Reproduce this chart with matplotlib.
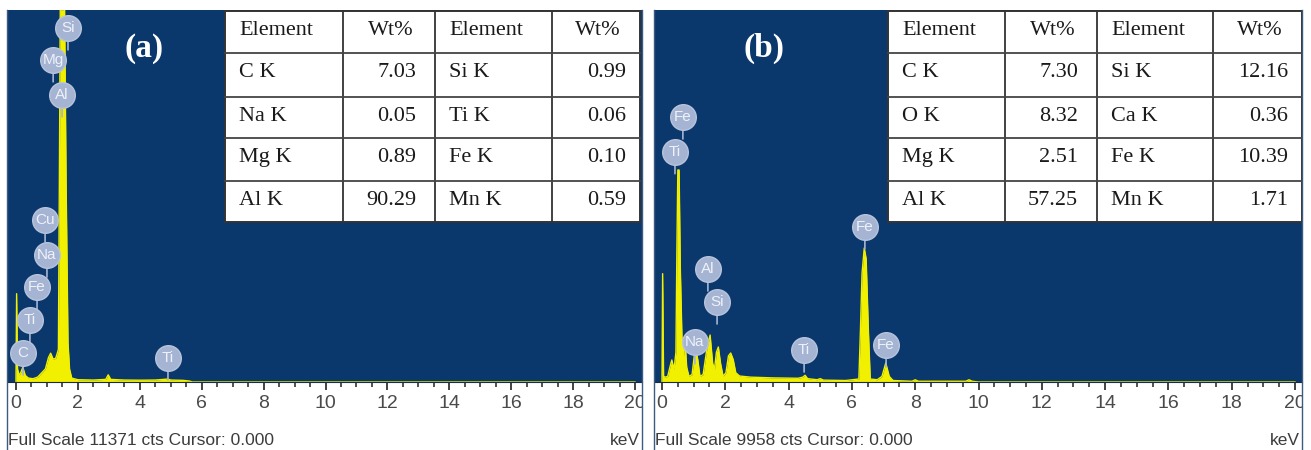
import matplotlib.pyplot as plt
from matplotlib import font_manager
from matplotlib.lines import Line2D
from matplotlib.patches import Rectangle
from matplotlib.ticker import MultipleLocator
from matplotlib.transforms import Bbox, TransformedBbox, offset_copy

W, H = 1311, 450

# ---- panel (a) spectrum, keV vs counts
kev_a = [0.00, 0.02, 0.05, 0.10, 0.16, 0.22, 0.30, 0.40, 0.55, 0.70, 0.85, 0.95,
         1.05, 1.12, 1.20, 1.28, 1.34, 1.37, 1.40, 1.43, 1.57, 1.62, 1.68, 1.73,
         1.80, 2.00, 2.50, 2.90, 2.98, 3.06, 3.50, 4.00, 4.50, 4.90, 5.00, 5.40,
         5.60, 5.70, 20.0]
cts_a = [0, 2700, 400, 200, 300, 450, 200, 120, 100, 150, 300, 400,
         750, 880, 700, 720, 900, 1000, 6000, 11371, 11371, 6000, 1200, 400,
         120, 70, 60, 80, 220, 80, 60, 55, 60, 90, 60, 50,
         30, 0, 0]
full_scale_a = 11371

lab_a = ["Si", "Mg", "Al", "Cu", "Na", "Fe", "Ti", "C", "Ti"]
lab_a_kev = [1.68, 1.20, 1.49, 0.94, 1.00, 0.68, 0.45, 0.23, 4.91]
lab_a_cts = [10825, 9847, 8778, 4946, 3878, 2900, 1899, 887, 739]

el1_a = ["C K", "Na K", "Mg K", "Al K"]
wt1_a = ["7.03", "0.05", "0.89", "90.29"]
el2_a = ["Si K", "Ti K", "Fe K", "Mn K"]
wt2_a = ["0.99", "0.06", "0.10", "0.59"]

# ---- panel (b)
kev_b = [0.00, 0.02, 0.05, 0.10, 0.18, 0.25, 0.31, 0.38, 0.44, 0.47, 0.50, 0.54,
         0.58, 0.63, 0.68, 0.73, 0.78, 0.85, 0.95, 1.02, 1.07, 1.13, 1.20, 1.30,
         1.42, 1.52, 1.60, 1.66, 1.72, 1.78, 1.85, 1.93, 2.02, 2.10, 2.17, 2.25,
         2.33, 2.45, 2.80, 3.50, 4.30, 4.45, 4.52, 4.60, 4.90, 5.00, 5.10, 5.80,
         6.22, 6.27, 6.32, 6.39, 6.45, 6.52, 6.58, 6.80, 6.95, 7.07, 7.18, 7.30,
         7.90, 8.00, 8.10, 9.60, 9.70, 9.80, 10.0, 20.0]
cts_b = [0, 2900, 150, 130, 150, 400, 590, 330, 800, 3500, 5675, 5675,
         3000, 1200, 700, 1070, 400, 150, 200, 700, 857, 600, 150, 200,
         900, 1258, 500, 350, 800, 937, 500, 150, 250, 700, 776, 600,
         250, 160, 130, 110, 100, 130, 180, 90, 60, 90, 50, 40,
         80, 1400, 2900, 3587, 3300, 1400, 80, 60, 150, 509, 150, 40,
         20, 60, 20, 20, 60, 20, 0, 0]
full_scale_b = 9958

lab_b = ["Fe", "Ti", "Al", "Si", "Na", "Ti", "Fe", "Fe"]
lab_b_kev = [0.66, 0.41, 1.45, 1.74, 1.04, 4.49, 6.41, 7.08]
lab_b_cts = [7094, 6165, 3025, 2142, 1071, 857, 4149, 990]

el1_b = ["C K", "O K", "Mg K", "Al K"]
wt1_b = ["7.30", "8.32", "2.51", "57.25"]
el2_b = ["Si K", "Ca K", "Fe K", "Mn K"]
wt2_b = ["12.16", "0.36", "10.39", "1.71"]

BLUE = "#0b386c"
YELLOW = "#f0f000"
BUBBLE = "#a5b4d3"

names = {f.name for f in font_manager.fontManager.ttflist}
if "Liberation Sans Narrow" in names:
    SANS, tick_fs, foot_fs = "Liberation Sans Narrow", 16, 15
else:
    SANS, tick_fs, foot_fs = "Liberation Sans", 14, 12.5
SERIF = "Liberation Serif"


def fx(x):
    return x / W


def fy(y):
    return 1 - y / H


fig = plt.figure(figsize=(W / 100, H / 100), dpi=100)


def panel(left, right, zero_px, px_per_kev, kev, cts, fs, labs, lab_kev, lab_cts,
          col_x, tables, tag, tag_x):
    top, bottom = 10, 382
    ax = fig.add_axes([fx(left), fy(bottom), (right - left) / W, (bottom - top) / H])
    ax.set_facecolor(BLUE)
    ax.fill_between(kev, cts, color=YELLOW, lw=0, zorder=2)
    ax.plot(kev, cts, color=YELLOW, lw=1, zorder=2)
    ax.set_xlim((left - zero_px) / px_per_kev, (right - zero_px) / px_per_kev)
    ax.set_ylim(0, fs)
    ax.set_yticks([])
    ax.set_xticks(range(0, 21, 2))
    ax.xaxis.set_minor_locator(MultipleLocator(0.5))
    ax.tick_params(axis="x", which="major", length=6, width=1.2, color="#222222",
                   pad=3, labelsize=tick_fs, labelcolor="#4a4a4a")
    ax.tick_params(axis="x", which="minor", length=3.5, width=1.1, color="#222222")
    clip = TransformedBbox(Bbox([[fx(left - 1), 0], [fx(right), 1]]), fig.transFigure)
    for lbl in ax.get_xticklabels():
        lbl.set_family(SANS)
        lbl.set_clip_box(clip)
        lbl.set_clip_on(True)
    for s in ["top", "left", "right"]:
        ax.spines[s].set_visible(False)
    ax.spines["bottom"].set_color("#1c2c40")
    ax.spines["bottom"].set_linewidth(0.8)

    # peak markers
    stem = offset_copy(ax.transData, fig=fig, y=-22, units="dots")
    for s, xk, yc in zip(labs, lab_kev, lab_cts):
        ax.annotate("", xy=(xk, yc), xycoords=stem, xytext=(xk, yc), textcoords="data",
                    arrowprops=dict(arrowstyle="-", color=BUBBLE, lw=1.2,
                                    shrinkA=0, shrinkB=0), zorder=4)
    ax.scatter(lab_kev, lab_cts, s=340, color=BUBBLE, edgecolors="#b8c4dc",
               linewidths=1, zorder=5, clip_on=False)
    for s, xk, yc in zip(labs, lab_kev, lab_cts):
        ax.text(xk, yc, s, ha="center", va="center", color="#eef1f8", fontsize=11,
                family=SANS, zorder=6)

    # results table
    row_y = [11, 53, 97, 138, 181, 222]
    fig.add_artist(Rectangle((fx(col_x[0]), fy(row_y[-1])), (col_x[-1] - col_x[0]) / W,
                             (row_y[-1] - row_y[0]) / H, transform=fig.transFigure,
                             facecolor="white", edgecolor="#333333", lw=1.4))
    for x in col_x[1:-1]:
        fig.add_artist(Line2D([fx(x), fx(x)], [fy(row_y[0]), fy(row_y[-1])],
                              transform=fig.transFigure, color="#333333", lw=1.3))
    for y in row_y[1:-1]:
        fig.add_artist(Line2D([fx(col_x[0]), fx(col_x[-1])], [fy(y), fy(y)],
                              transform=fig.transFigure, color="#444444", lw=1.3))
    tkw = dict(fontsize=16, family=SERIF, color="#1a1a1a", va="baseline")
    hdr = ["Element", "Wt%", "Element", "Wt%"]
    for c, h in enumerate(hdr):
        if h == "Element":
            fig.text(fx(col_x[c] + 14), fy(row_y[0] + 24), h, ha="left", **tkw)
        else:
            fig.text(fx((col_x[c] + col_x[c + 1]) / 2 + 2), fy(row_y[0] + 24), h,
                     ha="center", **tkw)
    pads = [19, 14]
    for r in range(4):
        base = fy(row_y[r + 1] + 24)
        for k, (els, wts) in enumerate(tables):
            fig.text(fx(col_x[2 * k] + 14), base, els[r], ha="left", **tkw)
            fig.text(fx(col_x[2 * k + 2] - pads[k]), base, wts[r], ha="right", **tkw)

    fig.text(fx(tag_x), fy(57), tag, ha="center", va="baseline", fontsize=24,
             fontweight="bold", family=SERIF, color="white")

    # frame of the panel
    for x in (left - 1, right):
        fig.add_artist(Line2D([fx(x), fx(x)], [fy(top), 0], transform=fig.transFigure,
                              color="#3d5a80", lw=1))
    fig.text(fx(left), fy(445), f"Full Scale {fs} cts Cursor: 0.000", ha="left",
             va="baseline", fontsize=foot_fs, family=SANS, color="#3c3c3c")
    fig.text(fx(right - 2), fy(445), "keV", ha="right", va="baseline",
             fontsize=foot_fs, family=SANS, color="#3c3c3c")
    return ax


panel(8, 642, 16, 30.95, kev_a, cts_a, full_scale_a, lab_a, lab_a_kev, lab_a_cts,
      [225, 343, 435, 552, 640], [(el1_a, wt1_a), (el2_a, wt2_a)], "(a)", 144)
panel(655, 1302, 662, 31.65, kev_b, cts_b, full_scale_b, lab_b, lab_b_kev, lab_b_cts,
      [888, 1005, 1097, 1213, 1302], [(el1_b, wt1_b), (el2_b, wt2_b)], "(b)", 764)

fig.savefig("out.png", dpi=100)
